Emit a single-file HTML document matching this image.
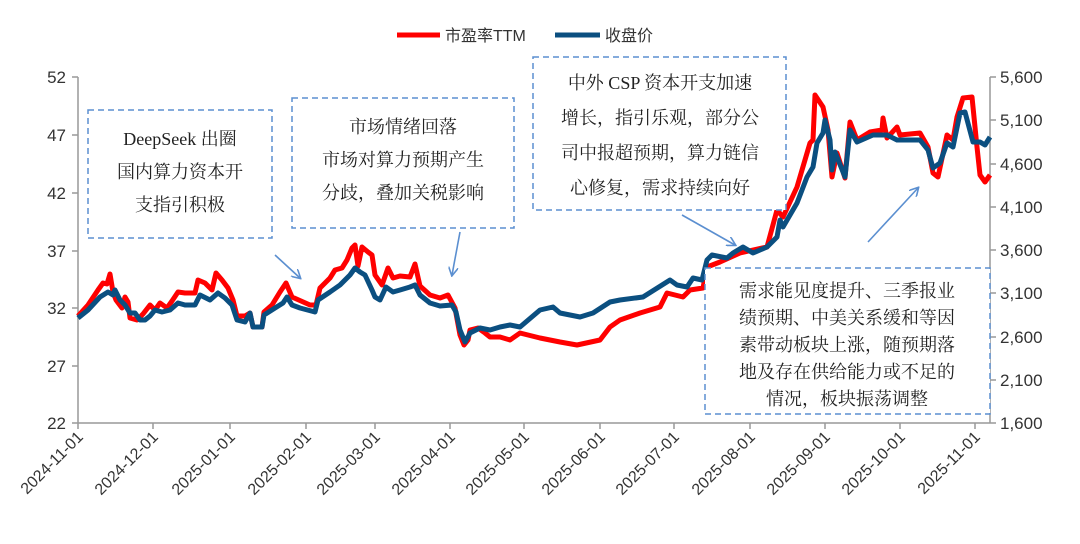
<!DOCTYPE html>
<html><head><meta charset="utf-8"><style>
body{margin:0;background:#fff;}
svg text{font-family:"Liberation Sans","Noto Sans CJK SC",sans-serif;}
svg .ann text{font-family:"Liberation Serif","Noto Serif CJK SC",serif;}
</style></head><body>
<svg width="1080" height="539" xmlns="http://www.w3.org/2000/svg">
<defs><marker id="ah" markerWidth="10" markerHeight="10" refX="8" refY="5" orient="auto" markerUnits="userSpaceOnUse"><path d="M0,0 L9,5 L0,10" fill="none" stroke="#5b8fd0" stroke-width="1.6"/></marker></defs>
<line x1="397" y1="35" x2="440" y2="35" stroke="#ff0000" stroke-width="5"/>
<text x="445" y="41" font-size="16" fill="#333">市盈率TTM</text>
<line x1="555" y1="35" x2="600" y2="35" stroke="#0b4f80" stroke-width="5"/>
<text x="605" y="41" font-size="16" fill="#333">收盘价</text>
<g stroke="#999" stroke-width="1.5" fill="none">
<line x1="78" y1="77" x2="78" y2="423"/>
<line x1="990" y1="77" x2="990" y2="423"/>
<line x1="78" y1="423" x2="990" y2="423"/>
<path d="M72 77H78M72 135H78M72 193H78M72 251H78M72 308H78M72 366H78M72 423H78"/>
<path d="M990 77H996M990 120H996M990 164H996M990 207H996M990 250H996M990 293H996M990 337H996M990 380H996M990 423H996"/>
<path d="M78 423V429M153 423V429M230 423V429M306 423V429M375 423V429M450 423V429M524 423V429M600 423V429M674 423V429M750 423V429M825 423V429M900 423V429M975 423V429"/>
</g>
<g font-size="17" fill="#333" text-anchor="end">
<text x="66" y="83">52</text><text x="66" y="141">47</text><text x="66" y="199">42</text><text x="66" y="257">37</text><text x="66" y="314">32</text><text x="66" y="372">27</text><text x="66" y="429">22</text>
</g>
<g font-size="17" fill="#333" text-anchor="start">
<text x="1000" y="83">5,600</text><text x="1000" y="126">5,100</text><text x="1000" y="170">4,600</text><text x="1000" y="213">4,100</text><text x="1000" y="256">3,600</text><text x="1000" y="299">3,100</text><text x="1000" y="343">2,600</text><text x="1000" y="386">2,100</text><text x="1000" y="429">1,600</text>
</g>
<g font-size="16" fill="#333" text-anchor="end">
<text transform="translate(84,438) rotate(-45)">2024-11-01</text>
<text transform="translate(159,438) rotate(-45)">2024-12-01</text>
<text transform="translate(236,438) rotate(-45)">2025-01-01</text>
<text transform="translate(312,438) rotate(-45)">2025-02-01</text>
<text transform="translate(381,438) rotate(-45)">2025-03-01</text>
<text transform="translate(456,438) rotate(-45)">2025-04-01</text>
<text transform="translate(530,438) rotate(-45)">2025-05-01</text>
<text transform="translate(606,438) rotate(-45)">2025-06-01</text>
<text transform="translate(680,438) rotate(-45)">2025-07-01</text>
<text transform="translate(756,438) rotate(-45)">2025-08-01</text>
<text transform="translate(831,438) rotate(-45)">2025-09-01</text>
<text transform="translate(906,438) rotate(-45)">2025-10-01</text>
<text transform="translate(981,438) rotate(-45)">2025-11-01</text>
</g>
<polyline fill="none" stroke="#ff0000" stroke-width="5" stroke-linejoin="round" points="78,316 88,305 98,290 103,283 107,284 110,274 113,292 116,300 122,308 125,297 128,302 130,318 137,320 143,314 150,305 155,310 160,303 167,308 172,301 178,292 185,293 195,293 198,280 205,283 212,290 216,273 222,280 228,288 233,300 237,316 245,316 250,313 253,327 262,327 264,312 272,305 280,292 286,283 292,297 310,305 316,305 320,288 330,278 335,270 342,268 347,260 352,248 355,245 358,266 362,247 368,252 372,255 375,275 382,285 388,268 393,278 400,276 410,277 415,264 420,286 430,295 440,298 448,295 455,308 460,335 464,345 468,340 470,330 478,328 485,333 490,337 500,337 510,340 520,333 540,338 560,342 577,345 600,340 610,327 620,320 640,313 660,307 667,293 683,297 690,290 703,288 707,267 720,262 740,253 753,250 767,247 777,210 783,217 797,187 810,143 813,140 815,95 823,107 828,130 832,177 837,153 845,178 850,122 857,140 870,132 882,130 883,118 887,138 897,127 900,135 920,133 928,147 933,173 938,177 947,135 953,140 957,117 963,98 972,97 977,147 980,175 985,182 990,175"/>
<polyline fill="none" stroke="#0b4f80" stroke-width="5" stroke-linejoin="round" points="78,318 88,310 100,297 108,292 113,295 115,290 120,300 125,305 130,313 135,313 140,320 145,320 150,316 155,310 162,312 170,310 178,303 185,305 195,305 200,295 210,300 218,293 225,298 232,305 237,320 245,322 250,313 253,327 262,327 264,315 275,308 283,303 287,297 292,305 300,308 315,312 318,300 330,292 340,285 345,280 350,275 355,268 360,272 365,275 372,290 375,297 380,300 386,287 393,292 400,290 410,287 415,285 420,295 430,303 440,306 452,305 456,312 460,330 465,342 470,333 480,328 490,330 500,327 510,325 520,327 540,310 553,307 560,313 580,317 593,313 610,302 620,300 643,297 670,280 677,285 687,287 693,278 702,280 707,260 712,255 727,258 733,253 743,247 753,253 767,247 777,237 780,220 783,227 797,203 807,177 813,167 817,143 823,133 825,120 830,140 832,170 835,152 845,177 850,130 857,142 873,135 887,135 897,140 920,140 928,150 933,168 940,163 947,143 953,147 960,113 965,112 973,142 980,142 985,145 990,137"/>
<g fill="#fff" stroke="#5b8fd0" stroke-width="1.5" stroke-dasharray="6,4">
<rect x="88" y="110" width="184" height="128"/>
<rect x="292" y="98" width="222" height="130"/>
<rect x="533" y="57" width="253" height="153"/>
<rect x="705" y="268" width="285" height="146"/>
</g>
<g stroke="#5b8fd0" stroke-width="1.6" marker-end="url(#ah)">
<line x1="275" y1="255" x2="300" y2="278"/>
<line x1="460" y1="232" x2="452" y2="275"/>
<line x1="682" y1="215" x2="735" y2="245"/>
<line x1="868" y1="242" x2="918" y2="188"/>
</g>
<g class="ann" font-size="18" fill="#222" text-anchor="middle">
<text x="180" y="145">DeepSeek 出圈</text>
<text x="180" y="178">国内算力资本开</text>
<text x="180" y="211">支指引积极</text>
<text x="403" y="133">市场情绪回落</text>
<text x="403" y="166">市场对算力预期产生</text>
<text x="403" y="199">分歧，叠加关税影响</text>
<text x="660" y="89">中外 CSP 资本开支加速</text>
<text x="660" y="124">增长，指引乐观，部分公</text>
<text x="660" y="159">司中报超预期，算力链信</text>
<text x="660" y="194">心修复，需求持续向好</text>
<text x="847" y="297">需求能见度提升、三季报业</text>
<text x="847" y="324">绩预期、中美关系缓和等因</text>
<text x="847" y="351">素带动板块上涨，随预期落</text>
<text x="847" y="378">地及存在供给能力或不足的</text>
<text x="847" y="405">情况，板块振荡调整</text>
</g>
</svg>
</body></html>
